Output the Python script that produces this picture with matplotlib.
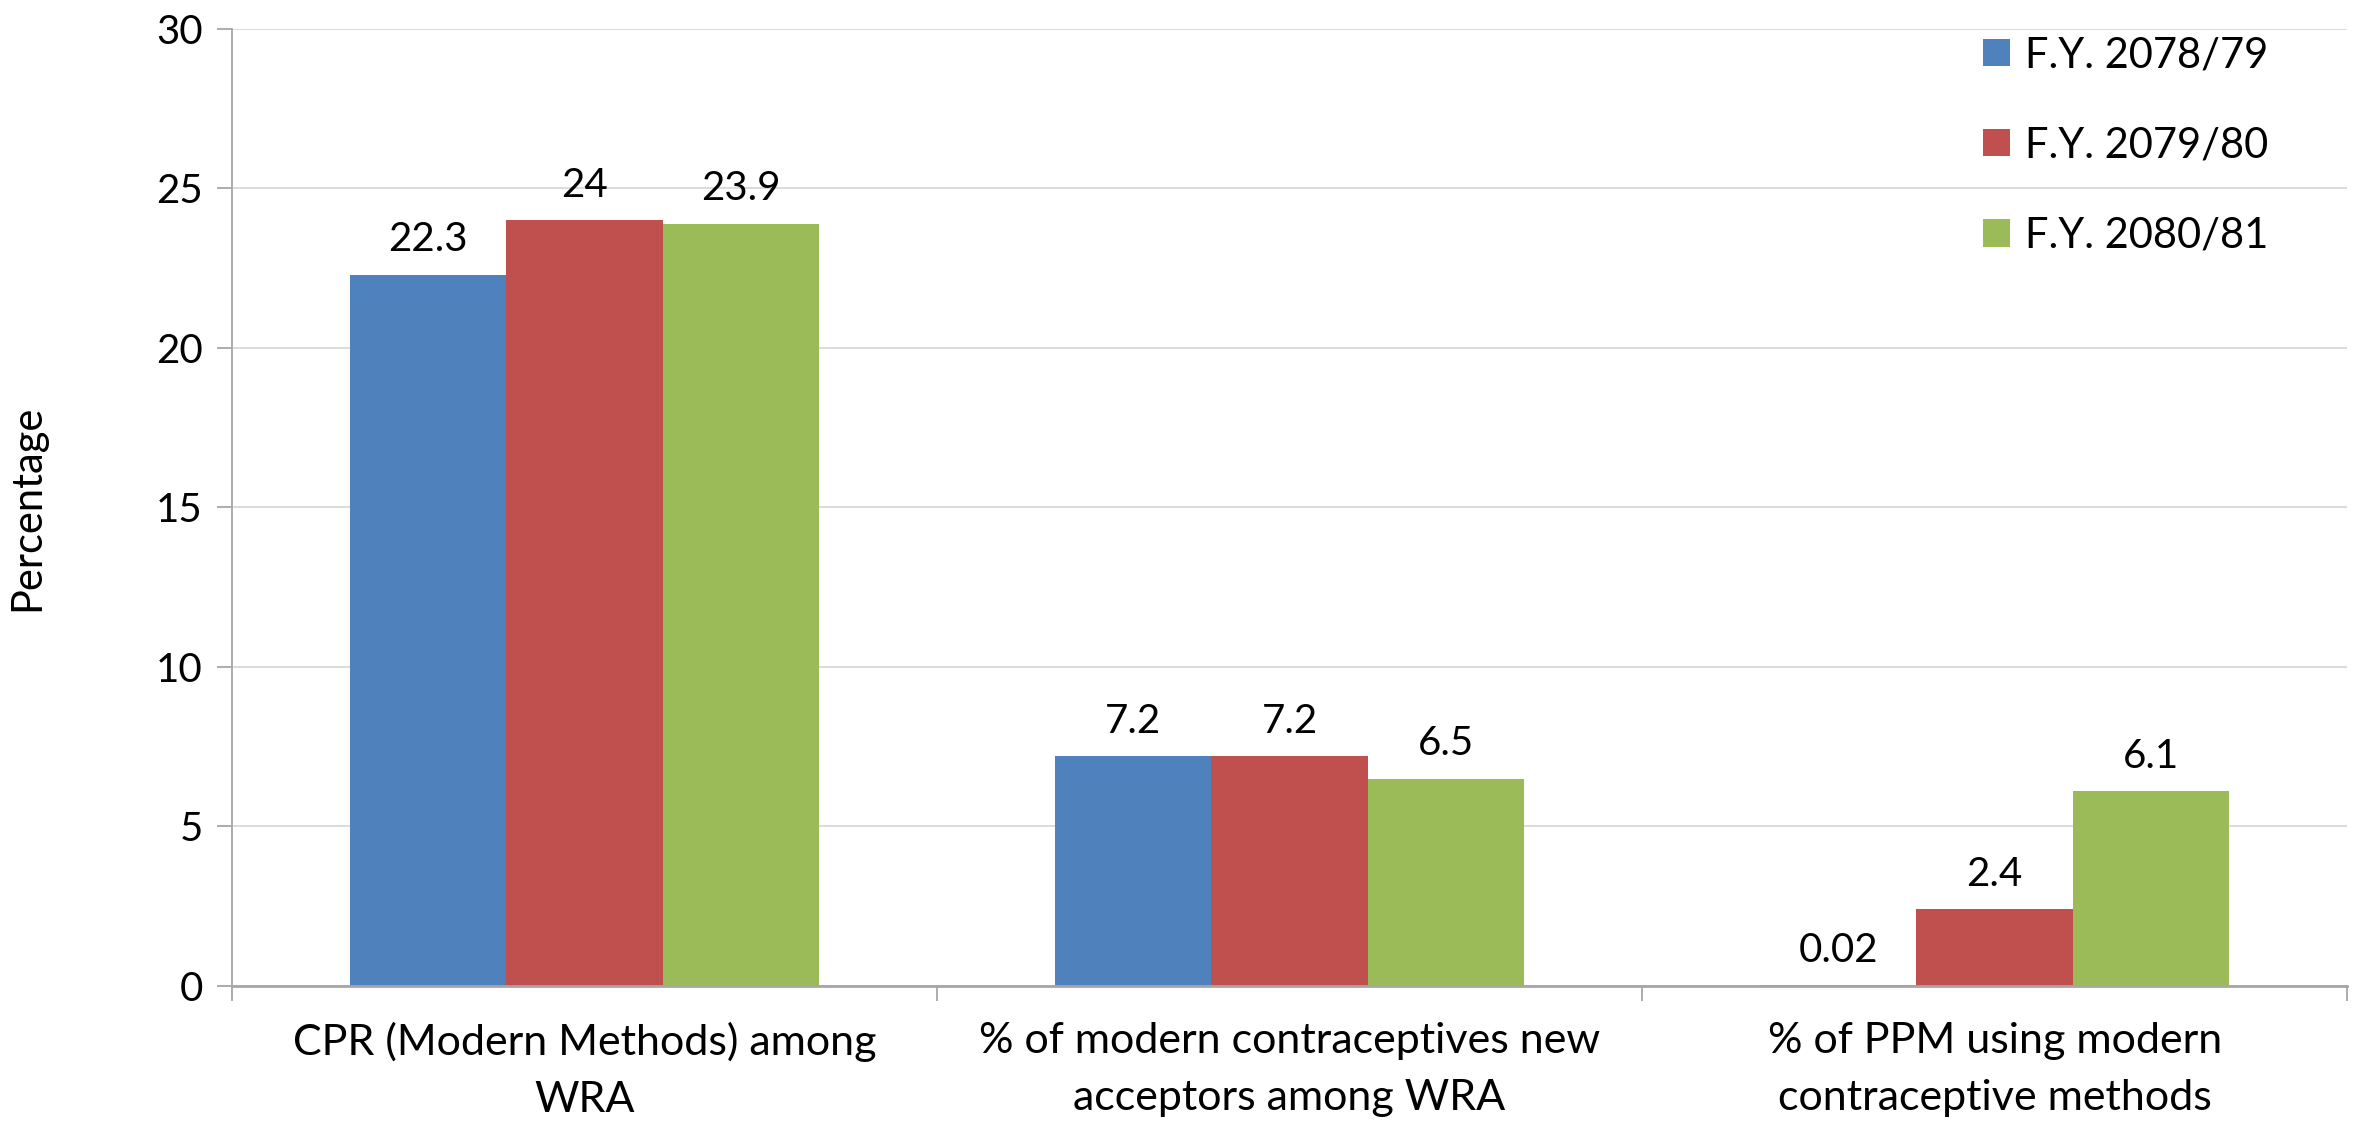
import numpy as np
import matplotlib.pyplot as plt

categories = ['CPR (Modern Methods) among\nWRA',
              '% of modern contraceptives new\nacceptors among WRA',
              '% of PPM using modern\ncontraceptive methods']
series = ['F.Y. 2078/79', 'F.Y. 2079/80', 'F.Y. 2080/81']
values_7879 = [22.3, 7.2, 0.02]
values_7980 = [24, 7.2, 2.4]
values_8081 = [23.9, 6.5, 6.1]
labels_7879 = ['22.3', '7.2', '0.02']
labels_7980 = ['24', '7.2', '2.4']
labels_8081 = ['23.9', '6.5', '6.1']
colors = ['#4F81BD', '#C0504D', '#9BBB59']
yticks = [0, 5, 10, 15, 20, 25, 30]

plt.rcParams['font.family'] = ['Lato', 'DejaVu Sans']

fig = plt.figure(figsize=(23.74, 11.28), dpi=100)
ax = fig.add_axes([0.0977, 0.1259, 0.891, 0.8484])

x = np.arange(len(categories))
w = 0.222
all_vals = [values_7879, values_7980, values_8081]
all_labels = [labels_7879, labels_7980, labels_8081]
for i, (vals, labs) in enumerate(zip(all_vals, all_labels)):
    bars = ax.bar(x + (i - 1) * w, vals, width=w, color=colors[i], label=series[i], zorder=2)
    ax.bar_label(bars, labels=labs, padding=12, fontsize=29)

ax.set_xlim(-0.5, 2.5)
ax.set_ylim(0, 30)
ax.set_yticks(yticks)
ax.set_yticklabels([str(t) for t in yticks], fontsize=29)
ax.yaxis.grid(True, color='#D9D9D9', linewidth=1.3, zorder=0)
ax.set_axisbelow(True)

ax.set_xticks(x)
ax.set_xticklabels(categories, fontsize=31, linespacing=1.6)
ax.tick_params(axis='x', which='major', length=0, pad=26)
ax.set_xticks([-0.5, 0.5, 1.5, 2.5], minor=True)
ax.tick_params(axis='x', which='minor', length=11, width=1.3, color='#A6A6A6', direction='out')
ax.tick_params(axis='y', length=11, width=1.3, color='#A6A6A6', direction='out', pad=10)

for s in ['top', 'right']:
    ax.spines[s].set_visible(False)
ax.spines['left'].set_color('#A6A6A6')
ax.spines['left'].set_linewidth(1.3)
ax.spines['bottom'].set_color('#A6A6A6')
ax.spines['bottom'].set_linewidth(2)
ax.spines['bottom'].set_zorder(3)

fig.text(27 / 2374, 0.55, 'Percentage', rotation=90, fontsize=30, ha='center', va='center')

fig.legend(*ax.get_legend_handles_labels(), loc='upper left', bbox_to_anchor=(0.8353, 0.968),
           frameon=False, fontsize=30, borderpad=0, borderaxespad=0,
           handlelength=0.65, handleheight=0.65, handletextpad=0.35, labelspacing=1.25)

plt.savefig('out.png', dpi=100)
